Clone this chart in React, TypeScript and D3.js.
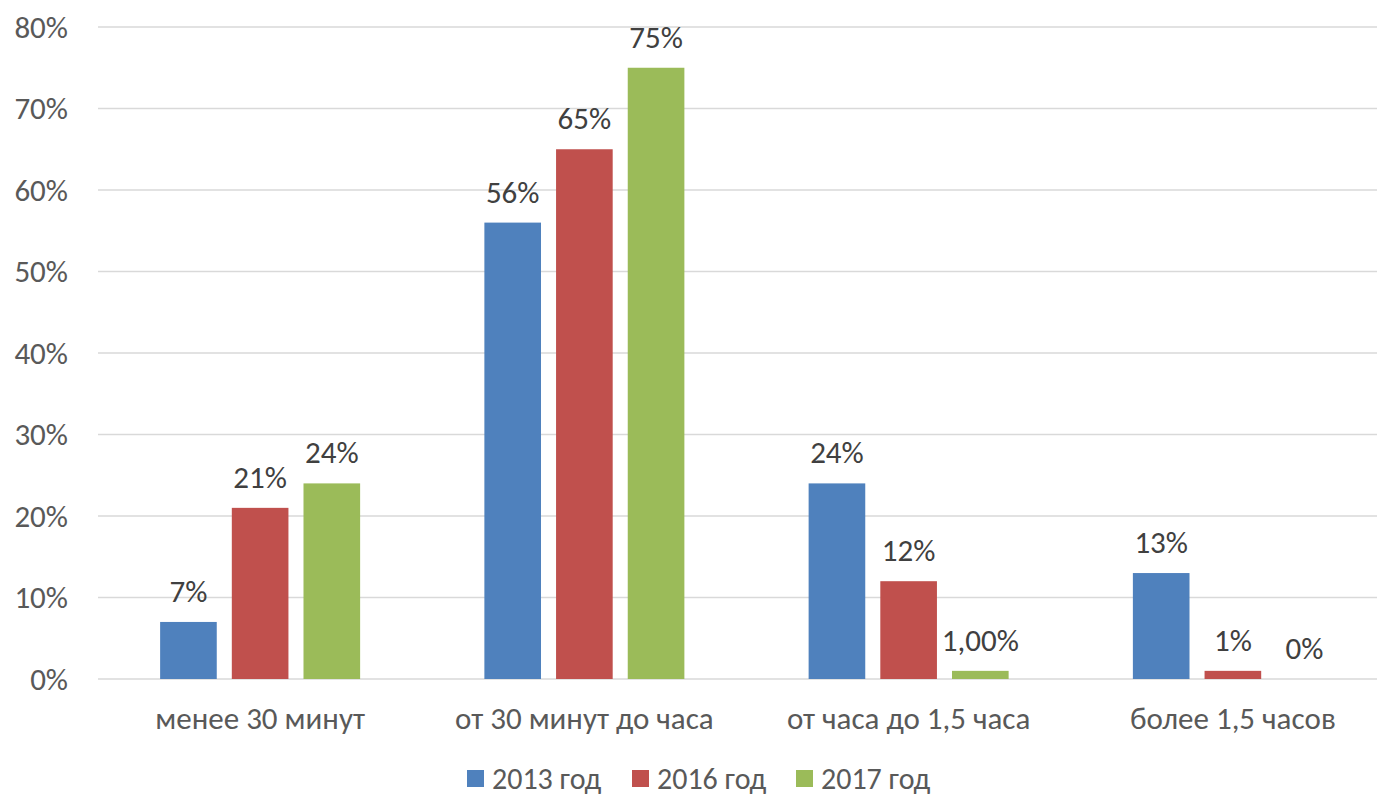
import { useEffect, useRef } from "react";
import * as d3 from "d3";

const WIDTH = 1377;
const HEIGHT = 797;

const categories = ["менее 30 минут", "от 30 минут до часа", "от часа до 1,5 часа", "более 1,5 часов"];
const seriesNames = ["2013 год", "2016 год", "2017 год"];
const values2013 = [7, 56, 24, 13];
const values2016 = [21, 65, 12, 1];
const values2017 = [24, 75, 1, 0];
const labels2013 = ["7%", "56%", "24%", "13%"];
const labels2016 = ["21%", "65%", "12%", "1%"];
const labels2017 = ["24%", "75%", "1,00%", "0%"];
const yTicks = [0, 10, 20, 30, 40, 50, 60, 70, 80];

const COLORS = {
  series: ["#4F81BD", "#C0504D", "#9BBB59"],
  grid: "#D9D9D9",
  tick: "#595959",
  label: "#404040",
};

const FONT = "Carlito, Calibri, Lato, 'Open Sans', sans-serif";
const FONT_SIZE = 31;
const margin = { top: 27, right: -18, bottom: 118, left: 98 };

export default function App() {
  const svgRef = useRef<SVGSVGElement>(null);

  useEffect(() => {
    if (!svgRef.current) return;
    const svg = d3.select(svgRef.current);
    svg.selectAll("*").remove();

    const seriesValues = [values2013, values2016, values2017];
    const seriesLabels = [labels2013, labels2016, labels2017];

    const x0 = d3.scaleBand()
      .domain(categories)
      .range([margin.left, WIDTH - margin.right])
      .padding(0);

    const x1 = d3.scaleBand()
      .domain(seriesNames)
      .range([-100, 100])
      .paddingInner(0.21)
      .paddingOuter(0);

    const y = d3.scaleLinear()
      .domain([0, 80])
      .range([HEIGHT - margin.bottom, margin.top]);

    // gridlines + y tick labels
    const grid = svg.append("g").attr("class", "grid");
    yTicks.forEach((t) => {
      grid.append("line")
        .attr("x1", margin.left)
        .attr("x2", WIDTH)
        .attr("y1", y(t))
        .attr("y2", y(t))
        .attr("stroke", COLORS.grid)
        .attr("stroke-width", 1.5);
      grid.append("text")
        .attr("x", 68)
        .attr("y", y(t))
        .attr("dy", "0.35em")
        .attr("text-anchor", "end")
        .attr("font-size", FONT_SIZE)
        .attr("font-family", FONT)
        .attr("fill", COLORS.tick)
        .text(`${t}%`);
    });

    // bars + data labels
    const bars = svg.append("g").attr("class", "bars");
    categories.forEach((cat, ci) => {
      const cx = (x0(cat) ?? 0) + x0.bandwidth() / 2;
      seriesNames.forEach((s, si) => {
        const v = seriesValues[si][ci];
        const bx = cx + (x1(s) ?? 0);
        bars.append("rect")
          .attr("x", bx)
          .attr("y", y(v))
          .attr("width", x1.bandwidth())
          .attr("height", y(0) - y(v))
          .attr("fill", COLORS.series[si]);
        bars.append("text")
          .attr("x", bx + x1.bandwidth() / 2)
          .attr("y", y(v) - 20)
          .attr("text-anchor", "middle")
          .attr("font-size", FONT_SIZE)
          .attr("font-family", FONT)
          .attr("fill", COLORS.label)
          .text(seriesLabels[si][ci]);
      });

      svg.append("text")
        .attr("x", cx)
        .attr("y", 729)
        .attr("text-anchor", "middle")
        .attr("font-size", FONT_SIZE)
        .attr("font-family", FONT)
        .attr("fill", COLORS.tick)
        .text(cat);
    });

    // legend
    const legendX = [467, 632, 796];
    const legend = svg.append("g").attr("class", "legend");
    seriesNames.forEach((s, si) => {
      legend.append("rect")
        .attr("x", legendX[si])
        .attr("y", 770)
        .attr("width", 17)
        .attr("height", 17)
        .attr("fill", COLORS.series[si]);
      legend.append("text")
        .attr("x", legendX[si] + 25)
        .attr("y", 789)
        .attr("font-size", 30)
        .attr("font-family", FONT)
        .attr("fill", COLORS.tick)
        .text(s);
    });
  }, []);

  return (
    <svg
      ref={svgRef}
      width={WIDTH}
      height={HEIGHT}
      style={{ position: "absolute", left: 0, top: 0, background: "#fff" }}
    />
  );
}
